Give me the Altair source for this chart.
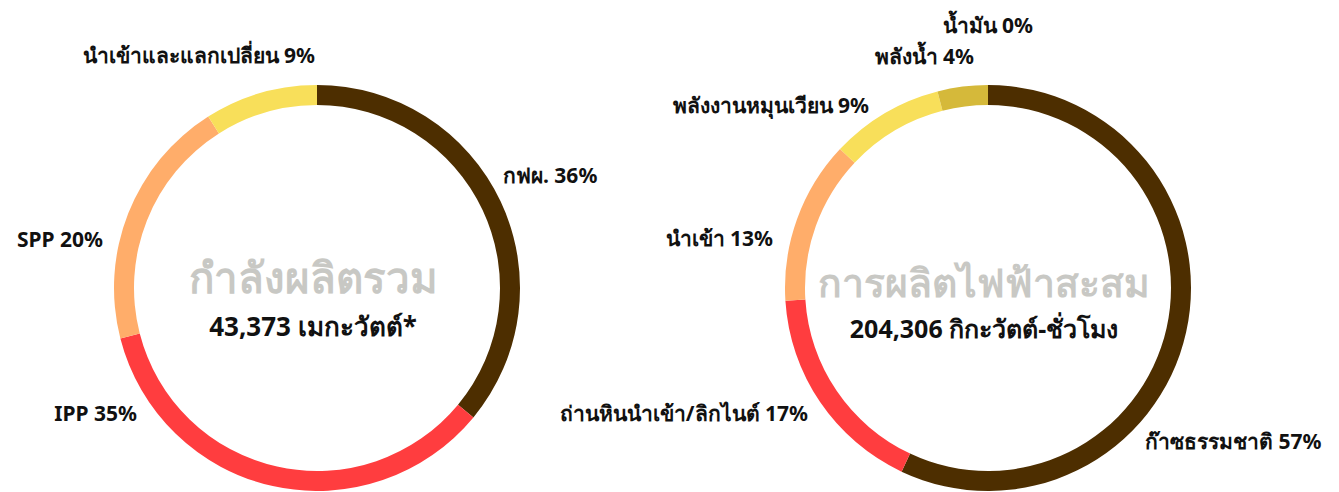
import altair as alt
import pandas as pd

# ---- data ----
cap_categories = ["กฟผ.", "IPP", "SPP", "นำเข้าและแลกเปลี่ยน"]
cap_values = [36, 35, 20, 9]
gen_categories = ["ก๊าซธรรมชาติ", "ถ่านหินนำเข้า/ลิกไนต์", "นำเข้า", "พลังงานหมุนเวียน", "พลังน้ำ", "น้ำมัน"]
gen_values = [57, 17, 13, 9, 4, 0]
cap_title = "กำลังผลิตรวม"
cap_total = "43,373 เมกะวัตต์*"
gen_title = "การผลิตไฟฟ้าสะสม"
gen_total = "204,306 กิกะวัตต์-ชั่วโมง"

# ---- styles / layout ----
cap_colors = ["#4d2e00", "#ff3d3f", "#ffad6a", "#f8df5a"]
gen_colors = ["#4d2e00", "#ff3d3f", "#ffad6a", "#f8df5a", "#d5b93a", "#c9a92c"]
FONT = "Noto Sans"
OFF = 8  # page margin
left_c = (317 - OFF, 288 - OFF)
right_c = (988 - OFF, 288 - OFF)
R_OUT, R_IN = 203, 183

# label anchor positions (page px), align
cap_label_pos = [(503, 177, "left"), (137, 415, "right"), (103, 241, "right"), (315, 57, "right")]
gen_label_pos = [(1145, 443, "left"), (808, 415, "right"), (773, 240, "right"),
                 (869, 107, "right"), (974, 58, "right"), (1033, 27, "right")]

cap_df = pd.DataFrame({"cat": cap_categories, "value": cap_values, "order": range(len(cap_values))})
gen_df = pd.DataFrame({"cat": gen_categories, "value": gen_values, "order": range(len(gen_values))})


def donut(df, colors, center):
    return alt.Chart(df).mark_arc(innerRadius=R_IN, outerRadius=R_OUT).encode(
        theta=alt.Theta("value:Q", stack=True),
        order=alt.Order("order:O"),
        color=alt.Color("cat:N", scale=alt.Scale(domain=list(df["cat"]), range=colors), legend=None),
        x=alt.value(center[0]),
        y=alt.value(center[1]),
    )


def labels(cats, vals, positions):
    layers = []
    for c, v, (px, py, al) in zip(cats, vals, positions):
        d = pd.DataFrame({"t": [f"{c} {v}%"]})
        layers.append(
            alt.Chart(d).mark_text(font=FONT, fontSize=21, fontWeight="bold", color="#111111",
                                   align=al, baseline="middle").encode(
                text="t:N", x=alt.value(px - OFF), y=alt.value(py - OFF))
        )
    return layers


def center_text(title, total, center, dy_title, dy_total, s_title, s_total):
    t1 = alt.Chart(pd.DataFrame({"t": [title]})).mark_text(
        font=FONT, fontSize=s_title, fontWeight="bold", color="#c8c8c4", align="center", baseline="middle"
    ).encode(text="t:N", x=alt.value(center[0]), y=alt.value(center[1] + dy_title))
    t2 = alt.Chart(pd.DataFrame({"t": [total]})).mark_text(
        font=FONT, fontSize=s_total, fontWeight="bold", color="#111111", align="center", baseline="middle"
    ).encode(text="t:N", x=alt.value(center[0]), y=alt.value(center[1] + dy_total))
    return [t1, t2]


layers = [donut(cap_df, cap_colors, left_c), donut(gen_df, gen_colors, right_c)]
layers += labels(cap_categories, cap_values, cap_label_pos)
layers += labels(gen_categories, gen_values, gen_label_pos)
layers += center_text(cap_title, cap_total, (left_c[0] - 4, left_c[1]), -8, 40, 42, 26)
layers += center_text(gen_title, gen_total, (right_c[0] - 4, right_c[1]), -3, 42, 39, 25)

chart = alt.layer(*layers).resolve_scale(color="independent", theta="independent").properties(
    width=1323, height=476, padding=0
).configure_view(stroke=None)

chart.save("out.html", embed_options={"renderer": "svg", "actions": False})
